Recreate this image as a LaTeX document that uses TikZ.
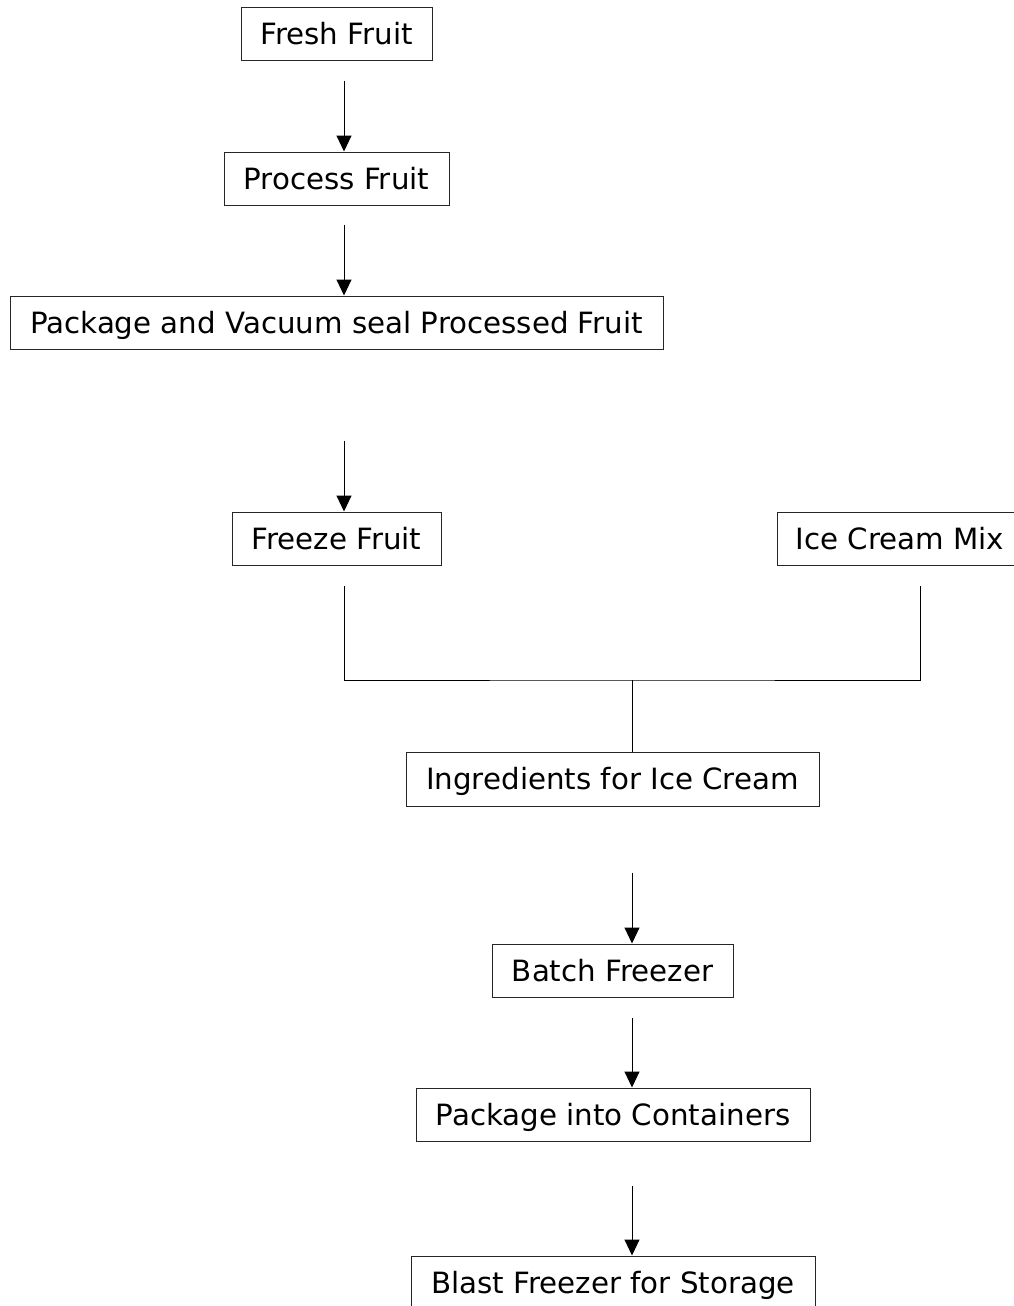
\documentclass[tikz,border=0pt]{standalone}
\usepackage{fontspec}
\setmainfont{DejaVu Sans}
\usetikzlibrary{arrows.meta}
\begin{document}
\begin{tikzpicture}[x=1pt,y=1pt,
  box/.style={draw=black!85,line width=1pt,rectangle,inner sep=0pt,
    font=\fontsize{29.3}{34}\selectfont,text height=21pt,text depth=0pt},
  conn/.style={draw=black,line width=1pt},
  arr/.style={conn,-{Triangle[width=15pt,length=16pt]}}]
\clip (0,0) rectangle (1014,-1306);
\fill[white] (0,0) rectangle (1014,-1306);
\node[box,minimum width=191pt,minimum height=53pt] (fresh) at (336.5,-34.5) {Fresh Fruit};
\node[box,minimum width=225pt,minimum height=53pt] (proc) at (336.5,-178.5) {Process Fruit};
\node[box,minimum width=653pt,minimum height=53pt] (pack) at (336.5,-322.5) {Package and Vacuum seal Processed Fruit};
\node[box,minimum width=209pt,minimum height=53pt] (freeze) at (336.5,-538.5) {Freeze Fruit};
\node[box,minimum width=246pt,minimum height=53pt] (mix) at (900,-538.5) {Ice Cream Mix};
\node[box,minimum width=413pt,minimum height=54pt] (ingr) at (612.5,-779) {Ingredients for Ice Cream};
\node[box,minimum width=241pt,minimum height=53pt] (batch) at (612.5,-970.5) {Batch Freezer};
\node[box,minimum width=394pt,minimum height=53pt] (cont) at (613,-1114.5) {Package into Containers};
\node[box,minimum width=404pt,minimum height=53pt] (blast) at (613,-1282.5) {Blast Freezer for Storage};
\coordinate (J) at (632,-680);
\draw[arr] ([xshift=7.5pt,yshift=-19pt]fresh.south) -- ([xshift=7.5pt]proc.north);
\draw[arr] ([xshift=7.5pt,yshift=-19pt]proc.south) -- ([xshift=7.5pt]pack.north);
\draw[arr] ([xshift=7.5pt,yshift=-91pt]pack.south) -- ([xshift=7.5pt]freeze.north);
\draw[conn] ([xshift=7.5pt,yshift=-20pt]freeze.south) |- (J) -| ([xshift=20pt,yshift=-20pt]mix.south);
\draw[conn] (J) -- ([xshift=19.5pt]ingr.north);
\draw[arr] ([xshift=19.5pt,yshift=-66pt]ingr.south) -- ([xshift=19.5pt]batch.north);
\draw[arr] ([xshift=19.5pt,yshift=-20pt]batch.south) -- ([xshift=19pt]cont.north);
\draw[arr] ([xshift=19pt,yshift=-44pt]cont.south) -- ([xshift=19pt]blast.north);
\end{tikzpicture}
\end{document}
